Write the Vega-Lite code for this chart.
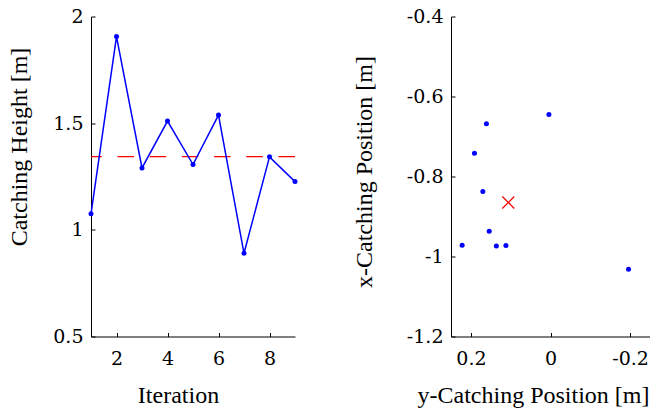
{
  "$schema": "https://vega.github.io/schema/vega-lite/v6.json",
  "background": "white",
  "padding": {"left": 7, "top": 7.5, "right": 0, "bottom": 0},
  "spacing": 54,
  "config": {
    "view": {"stroke": null},
    "font": "Liberation Serif",
    "axis": {
      "grid": false,
      "labelFont": "DejaVu Serif",
      "labelFontSize": 19,
      "labelColor": "black",
      "titleFont": "Liberation Serif",
      "titleFontSize": 24,
      "titleFontWeight": "normal",
      "titleColor": "black",
      "domainColor": "black",
      "domainWidth": 1,
      "tickColor": "black",
      "tickSize": -4,
      "labelFlush": false,
      "labelOverlap": false
    },
    "axisX": {"labelPadding": 17, "titlePadding": 15},
    "axisY": {"labelPadding": 12}
  },
  "datasets": {
    "iter": [
      {"iteration": 1, "height": 1.075},
      {"iteration": 2, "height": 1.906},
      {"iteration": 3, "height": 1.29},
      {"iteration": 4, "height": 1.51},
      {"iteration": 5, "height": 1.306},
      {"iteration": 6, "height": 1.538},
      {"iteration": 7, "height": 0.89},
      {"iteration": 8, "height": 1.342},
      {"iteration": 9, "height": 1.226}
    ],
    "pos": [
      {"ypos": 0.222, "xpos": -0.972},
      {"ypos": 0.191, "xpos": -0.742},
      {"ypos": 0.161, "xpos": -0.668},
      {"ypos": 0.170, "xpos": -0.8375},
      {"ypos": 0.154, "xpos": -0.937},
      {"ypos": 0.136, "xpos": -0.974},
      {"ypos": 0.112, "xpos": -0.9725},
      {"ypos": 0.004, "xpos": -0.645},
      {"ypos": -0.196, "xpos": -1.032}
    ],
    "meanpos": [{"ypos": 0.106, "xpos": -0.865}],
    "meanheight": [{"height": 1.343}]
  },
  "hconcat": [
    {
      "width": 204,
      "height": 320,
      "layer": [
        {
          "data": {"name": "meanheight"},
          "mark": {"type": "rule", "color": "#ff0000", "strokeWidth": 1.3, "strokeDash": [16.5, 15.7]},
          "encoding": {
            "y": {"field": "height", "type": "quantitative"}
          }
        },
        {
          "data": {"name": "iter"},
          "mark": {"type": "line", "color": "#0000ff", "strokeWidth": 1.5, "point": {"filled": true, "size": 25, "color": "#0000ff"}},
          "encoding": {
            "x": {
              "field": "iteration", "type": "quantitative",
              "scale": {"domain": [1, 9], "nice": false, "zero": false},
              "axis": {"title": "Iteration", "values": [2, 4, 6, 8], "titleX": 87}
            },
            "y": {
              "field": "height", "type": "quantitative",
              "scale": {"domain": [0.5, 2], "nice": false, "zero": false},
              "axis": {"title": "Catching Height [m]", "values": [0.5, 1, 1.5, 2], "labelExpr": "replace(format(datum.value, '~g'), '−', '-')", "titlePadding": 21, "titleY": 130}
            }
          }
        }
      ]
    },
    {
      "width": 199,
      "height": 320,
      "layer": [
        {
          "data": {"name": "pos"},
          "mark": {"type": "point", "filled": true, "size": 25, "color": "#0000ff", "opacity": 1},
          "encoding": {
            "x": {
              "field": "ypos", "type": "quantitative",
              "scale": {"domain": [-0.25, 0.25], "reverse": true, "nice": false, "zero": false},
              "axis": {"title": "y-Catching Position [m]", "values": [0.2, 0, -0.2], "labelExpr": "replace(format(datum.value, '~g'), '−', '-')", "titleX": 82}
            },
            "y": {
              "field": "xpos", "type": "quantitative",
              "scale": {"domain": [-1.2, -0.4], "nice": false, "zero": false},
              "axis": {"title": "x-Catching Position [m]", "values": [-1.2, -1, -0.8, -0.6, -0.4], "labelExpr": "replace(format(datum.value, '~g'), '−', '-')", "titlePadding": 30, "titleY": 155}
            }
          }
        },
        {
          "data": {"name": "meanpos"},
          "mark": {"type": "point", "shape": "M-1,-1L1,1M-1,1L1,-1", "filled": false, "size": 144, "color": "#ff0000", "strokeWidth": 1.2, "opacity": 1},
          "encoding": {
            "x": {"field": "ypos", "type": "quantitative"},
            "y": {"field": "xpos", "type": "quantitative"}
          }
        }
      ]
    }
  ]
}
